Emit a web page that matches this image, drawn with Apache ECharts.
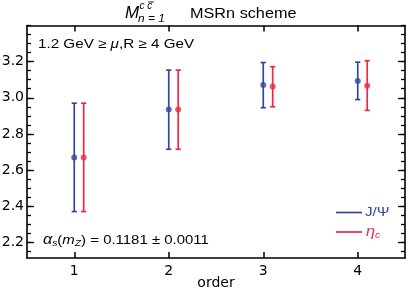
<!DOCTYPE html>
<html><head><meta charset="utf-8">
<script src="https://cdn.jsdelivr.net/npm/echarts@6/dist/echarts.min.js"></script>
<style>html,body{margin:0;padding:0;background:#fff}#c{width:408px;height:292px}</style>
</head><body><div id="c"></div>
<script>
const orders = [1, 2, 3, 4];
const jpsiCenter = [2.67, 2.935, 3.07, 3.093];
const jpsiLow = [2.37, 2.715, 2.945, 2.99];
const jpsiHigh = [2.97, 3.153, 3.195, 3.197];
const etaCenter = [2.67, 2.935, 3.062, 3.067];
const etaLow = [2.37, 2.715, 2.95, 2.93];
const etaHigh = [2.97, 3.153, 3.172, 3.205];
const yTicks = [2.2, 2.4, 2.6, 2.8, 3.0, 3.2];
const xTicks = [1, 2, 3, 4];

const BLUE = '#34479f', RED = '#ec2a45';
const LFONT = '"Liberation Sans", Arial, sans-serif';
const AFONT = '"DejaVu Sans", sans-serif';
const OFF = 0.1;
const yMinor = [];
for (let v = 2.15; v < 3.41; v += 0.05) yMinor.push(+v.toFixed(2));

const mctx = document.createElement('canvas').getContext('2d');
function measure(t, font) { mctx.font = font; return mctx.measureText(t).width; }
// lay out runs of text horizontally, each run: [text, fontSpec, dy]
function runs(x0, y0, sx, color, list) {
  const out = [];
  let x = x0;
  list.forEach(([t, f, dy]) => {
    const font = f + ' ' + LFONT;
    const w = measure(t, font);
    out.push({type: 'text', x: x, y: y0 + (dy || 0), scaleX: sx, z: 10,
      style: {text: t, font: font, fill: color, verticalAlign: 'middle', align: 'left'}});
    x += w * sx;
  });
  return out;
}

const chart = echarts.init(document.getElementById('c'), null, {renderer: 'canvas'});

function errSeries(name, color, dx, lo, hi) {
  return {
    name, type: 'custom', xAxisIndex: 0, yAxisIndex: 0,
    data: orders.map((o, i) => [o + dx, lo[i], hi[i]]),
    renderItem: (params, api) => {
      const x = api.value(0);
      const a = api.coord([x, api.value(1)]);
      const b = api.coord([x, api.value(2)]);
      const c = 2.6;
      const st = {stroke: color, lineWidth: 1.7};
      return {type: 'group', children: [
        {type: 'line', shape: {x1: a[0], y1: a[1], x2: b[0], y2: b[1]}, style: st},
        {type: 'line', shape: {x1: a[0] - c, y1: a[1], x2: a[0] + c, y2: a[1]}, style: st},
        {type: 'line', shape: {x1: b[0] - c, y1: b[1], x2: b[0] + c, y2: b[1]}, style: st}
      ]};
    },
    z: 2
  };
}
function ptSeries(name, color, dx, ctr) {
  return {
    name, type: 'scatter', xAxisIndex: 0, yAxisIndex: 0,
    data: orders.map((o, i) => [o + dx, ctr[i]]),
    symbol: 'circle', symbolSize: 6,
    itemStyle: {color: color}, z: 3
  };
}

const axLine = {show: true, lineStyle: {color: '#000', width: 1.6}};
const YMIN = 2.113, YMAX = 3.4;
function yAx(pos, major, labels) {
  return {
    type: 'value', position: pos, min: YMIN, max: YMAX,
    axisLine: major ? axLine : {show: false},
    splitLine: {show: false},
    axisTick: {show: true, inside: true, length: major ? 7 : 4,
      customValues: major ? yTicks : yMinor,
      lineStyle: {color: '#000', width: 1.3}},
    axisLabel: labels ? {show: true, customValues: yTicks, fontFamily: AFONT, fontSize: 14,
      color: '#000', margin: 3, formatter: v => v.toFixed(1)} : {show: false}
  };
}

const supFont = 'italic 10px ' + LFONT;
const supX = 139.5;
const c2x = supX + measure('c ', supFont);
const c2w = measure('c', supFont);

const graphics = [].concat(
  [{type: 'text', x: 125, y: 13.5, z: 10, style: {text: 'M', font: 'italic 17px ' + LFONT, fill: '#000', verticalAlign: 'middle'}},
   {type: 'text', x: supX, y: 6.5, z: 10, style: {text: 'c c', font: supFont, fill: '#000', verticalAlign: 'middle'}},
   {type: 'line', z: 10, shape: {x1: c2x + 1, y1: 2, x2: c2x + c2w + 1.5, y2: 2}, style: {stroke: '#000', lineWidth: 0.9}},
   {type: 'text', x: 138, y: 18.5, scaleX: 1.08, z: 10, style: {text: 'n = 1', font: 'italic 11px ' + LFONT, fill: '#000', verticalAlign: 'middle'}}],
  runs(190, 14.5, 1.16, '#000', [['MSRn scheme', '14px']]),
  runs(38, 44.5, 1.17, '#000', [['1.2 GeV ≥ ', '13px'], ['μ', 'italic 13px'], [',R ≥ 4 GeV', '13px']]),
  runs(43, 240, 1.15, '#000', [['α', 'italic 14px'], ['s', 'italic 9px', 3.5], ['(', '13px'], ['m', 'italic 13px'],
    ['Z', 'italic 9px', 3.5], [') = 0.1181 ± 0.0011', '13px']]),
  [{type: 'line', z: 10, shape: {x1: 336, y1: 212.5, x2: 362, y2: 212.5}, style: {stroke: BLUE, lineWidth: 1.7}},
   {type: 'line', z: 10, shape: {x1: 336, y1: 232, x2: 362, y2: 232}, style: {stroke: RED, lineWidth: 1.7}}],
  runs(365, 212.5, 1.17, BLUE, [['J/Ψ', '13px']]),
  runs(366, 232, 1.17, RED, [['η', 'italic 14px'], ['c', 'italic 9px', 3.5]])
);

chart.setOption({
  animation: false,
  grid: {left: 27, right: 3, top: 25.5, bottom: 34, outerBoundsMode: 'none', containLabel: false},
  xAxis: [
    {type: 'value', position: 'bottom', min: 0.5, max: 4.5,
     axisLine: axLine, splitLine: {show: false},
     axisTick: {show: true, inside: true, length: 6, customValues: xTicks, lineStyle: {color: '#000', width: 1.5}},
     axisLabel: {show: true, customValues: xTicks, fontFamily: AFONT, fontSize: 14, color: '#000', margin: 6},
     name: 'order', nameLocation: 'middle', nameGap: 25.5, nameMoveOverlap: false,
     nameTextStyle: {fontFamily: AFONT, fontSize: 14, color: '#000', verticalAlign: 'middle'}},
    {type: 'value', position: 'top', min: 0.5, max: 4.5,
     axisLine: axLine, splitLine: {show: false},
     axisTick: {show: true, inside: true, length: 6, customValues: xTicks, lineStyle: {color: '#000', width: 1.5}},
     axisLabel: {show: false}}
  ],
  yAxis: [yAx('left', true, true), yAx('left', false, false), yAx('right', true, false), yAx('right', false, false)],
  series: [
    errSeries('J/Ψ', BLUE, 0, jpsiLow, jpsiHigh),
    ptSeries('J/Ψ', BLUE, 0, jpsiCenter),
    errSeries('ηc', RED, OFF, etaLow, etaHigh),
    ptSeries('ηc', RED, OFF, etaCenter)
  ],
  graphic: graphics
});
</script></body></html>
